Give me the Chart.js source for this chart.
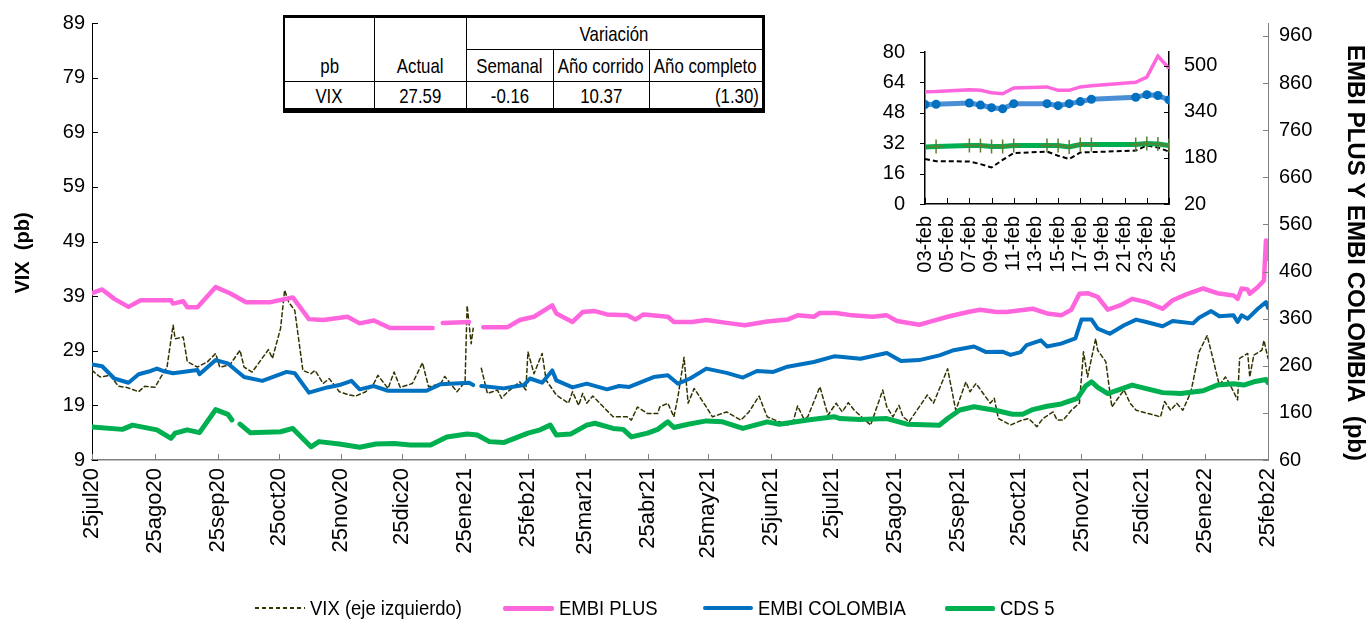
<!DOCTYPE html>
<html>
<head>
<meta charset="utf-8">
<script src="https://cdn.jsdelivr.net/npm/chart.js@4"></script>
<style>
html,body{margin:0;padding:0;background:#fff;}
#wrap{position:relative;width:1370px;height:621px;overflow:hidden;background:#fff;}
#main{position:absolute;left:0;top:0;}
#inset{position:absolute;left:860px;top:20px;}
#tbl{position:absolute;left:283px;top:15px;width:479px;table-layout:fixed;border-collapse:collapse;
  font-family:'Liberation Sans',Arial,sans-serif;font-size:21px;color:#000;background:#fff;
  border-top:3px solid #000;border-bottom:5px solid #000;border-left:2px solid #000;border-right:3px solid #000;}
#tbl td{border:1px solid #000;padding:0 3px;line-height:1;white-space:nowrap;overflow:visible;}
#tbl .c{display:flex;justify-content:center;}
#tbl .r{display:flex;justify-content:flex-end;}
#tbl .c span{display:inline-block;transform:scaleX(0.8);transform-origin:50% 50%;}
#tbl .r span{display:inline-block;transform:scaleX(0.8);transform-origin:100% 50%;}
#legend{position:absolute;left:0;top:595px;width:1370px;height:26px;
  font-family:'Liberation Sans',Arial,sans-serif;font-size:21px;color:#000;}
.li{position:absolute;top:0;height:26px;display:flex;align-items:center;white-space:nowrap;}
.sw{display:inline-block;margin-right:5px;}
.lt{display:inline-block;transform:scaleX(0.88);transform-origin:0 50%;}
</style>
</head>
<body>
<div id="wrap">
  <canvas id="main" width="1370" height="621"></canvas>
  <canvas id="inset" width="400" height="260"></canvas>
  <table id="tbl"></table>
  <div id="legend"></div>
</div>
<script>
// ---------- DATA ----------
// x positions are days counted from 25-jul-2020
const monthTickDays = [0,31,62,92,123,153,184,215,243,274,304,335,365,396,427,457,488,518,549,580];
const monthLabels = ['25jul20','25ago20','25sep20','25oct20','25nov20','25dic20','25ene21','25feb21','25mar21','25abr21',
  '25may21','25jun21','25jul21','25ago21','25sep21','25oct21','25nov21','25dic21','25ene22','25feb22'];
const leftTicks = [9,19,29,39,49,59,69,79,89];
const rightTicks = [60,160,260,360,460,560,660,760,860,960];

const vixDays = [0,4,9,13,17,23,26,31,34,37,
  40,41,45,47,52,57,61,63,68,73,
  75,79,87,89,93,95,97,100,104,108,
  110,114,117,122,127,130,135,139,141,146,
  149,152,158,163,166,172,174,180,184,185,
  187,188,190,192,195,200,202,205,211,214,
  215,218,222,224,229,235,237,240,242,244,
  247,257,264,266,269,274,279,280,284,287,
  289,292,294,297,303,306,313,320,324,329,
  333,339,343,346,348,351,353,359,363,367,
  370,373,376,384,390,392,395,398,400,403,
  412,415,422,426,431,433,436,443,445,447,
  453,458,462,466,469,474,476,479,483,487,
  489,491,495,496,500,503,506,509,512,515,
  518,527,529,532,535,538,542,546,550,553,
  556,559,561,565,566,570,571,573,577,578,
  580];
const vixValues = [25.4,24.2,24.5,22.5,22.3,21.5,22.5,22.3,24.2,26.0,
  33.7,31.2,31.5,27.0,26.0,27.0,28.5,26.0,26.4,29.1,
  26.0,25.1,29.2,27.6,33.1,40.1,37.9,36.4,25.4,24.8,
  25.4,23.0,23.9,21.5,20.9,20.7,21.5,23.0,24.5,22.1,
  25.1,22.3,23.0,26.8,22.4,23.0,24.3,21.5,23.3,37.3,
  30.3,33.1,null,25.8,21.2,21.8,20.3,21.5,23.3,21.8,
  28.8,24.8,28.5,23.6,20.9,19.4,21.5,19.0,21.2,19.4,
  20.7,16.9,16.9,16.3,18.7,17.5,17.5,18.7,19.4,16.9,
  20.6,27.8,19.4,22.1,18.7,16.9,17.8,16.3,17.8,20.7,
  16.9,16.0,15.4,16.3,18.9,16.6,16.9,22.4,17.2,19.4,
  17.8,19.5,18.1,15.4,21.8,18.7,16.9,19.0,16.9,16.0,
  20.9,19.4,25.7,18.1,23.3,21.5,23.0,19.4,20.3,16.6,
  15.4,16.2,16.6,15.1,16.6,17.8,16.3,16.3,18.1,19.4,
  28.8,24.2,31.2,29.1,27.0,18.7,20.3,21.8,19.4,18.1,
  17.8,16.9,19.7,18.1,19.4,18.1,21.5,28.8,31.8,27.3,
  22.7,24.2,23.0,20.0,27.6,28.5,24.2,28.2,29.1,30.9,
  27.6];

const plusDays = [0,5,11,18,24,32,39,40,45,47,
  52,61,68,76,88,99,107,114,126,132,
  139,147,168,171,173,186,190,193,205,211,
  218,227,229,237,242,248,254,264,268,272,
  284,287,296,303,313,322,333,343,348,356,
  359,367,375,385,392,397,408,413,422,432,
  438,446,451,464,471,478,483,487,491,496,
  501,507,513,520,528,533,540,548,555,563,
  565,567,570,571,575,578,579,580];
const plusValues = [414,422,402,385,399,399,399,392,397,384,
  384,427,414,395,395,405,359,357,364,350,
  356,340,340,null,351,353,null,342,342,357,
  364,388,371,353,374,376,369,367,358,369,
  364,353,353,357,351,346,354,358,367,364,
  372,372,367,364,367,355,347,353,364,374,
  379,374,374,381,371,367,379,413,414,406,
  379,388,402,395,381,399,412,424,414,409,
  402,424,422,413,427,441,526,487];

const colDays = [0,5,11,18,23,29,32,35,40,52,
  53,61,67,75,84,96,100,107,116,122,
  128,132,139,146,165,172,186,188,190,192,
  203,213,216,222,227,229,237,244,254,260,
  265,277,284,289,295,303,313,321,328,336,
  343,356,366,369,379,392,399,408,418,425,
  435,441,449,453,458,461,468,471,478,485,
  488,493,496,502,509,515,520,528,533,543,
  546,552,556,563,565,567,570,575,579,580];
const colValues = [263,259,233,224,242,249,254,249,244,251,
  242,272,265,236,228,247,244,203,214,219,
  228,210,217,207,207,221,224,219,null,217,
  212,219,233,224,250,229,214,222,210,217,
  215,236,240,222,233,254,245,235,249,247,
  258,268,280,279,275,287,270,272,282,293,
  301,289,290,283,289,304,314,301,307,318,
  358,358,339,328,346,358,353,344,355,350,
  362,376,365,367,353,367,360,381,395,383];

const cdsDays = [0,15,20,32,39,41,47,53,61,67,
  69,71,73,78,93,99,108,112,122,132,
  140,149,157,167,175,185,190,196,203,215,
  221,226,229,236,244,248,257,262,266,274,
  279,284,287,294,303,311,321,333,339,353,
  366,369,379,392,402,418,422,428,435,446,
  454,459,464,471,478,486,490,493,496,501,
  513,528,537,548,555,563,568,573,579,580];
const cdsValues = [130,125,134,124,106,117,124,118,167,157,
  145,null,136,118,120,127,88,99,94,87,
  94,95,92,92,109,115,113,99,97,117,
  124,134,113,115,134,138,127,125,109,117,
  125,141,129,136,143,141,127,141,136,145,
  152,148,146,148,136,134,148,166,173,165,
  157,157,167,174,179,191,217,226,214,201,
  219,203,201,207,219,222,219,226,231,224];

// inset: days counted from 03-feb-2022
const insetDays = [0,1,4,5,6,7,8,11,12,13,14,15,19,20,21,22];
const insetVix  = [23.7,22.5,22.4,21.0,19.2,23.2,26.8,27.6,25.4,23.7,27.1,27.3,28.1,30.8,29.7,27.6];
const insetPlus = [409,410,416,414,406,402,422,426,414,414,426,430,442,460,533,490];
const insetCol  = [365,366,370,363,354,350,368,368,361,368,375,383,390,399,396,381];
const insetCds  = [218,219,223,223,219,219,223,223,223,218,226,226,226,230,228,223];
const insetTickDays = [0,2,4,6,8,10,12,14,16,18,20,22];
const insetTickLabels = ['03-feb','05-feb','07-feb','09-feb','11-feb','13-feb','15-feb','17-feb','19-feb','21-feb','23-feb','25-feb'];
const insetLeftTicks = [0,16,32,48,64,80];
const insetRightTicks = [20,180,340,500];

const seriesLabels = ['VIX (eje izquierdo)','EMBI PLUS','EMBI COLOMBIA','CDS 5'];
const axisTitleLeft = 'VIX  (pb)';
const axisTitleRight = 'EMBI PLUS Y EMBI COLOMBIA  (pb)';
const tableHead1 = ['pb','Actual','Variación'];
const tableHead2 = ['Semanal','Año corrido','Año completo'];
const tableRow = ['VIX','27.59','-0.16','10.37','(1.30)'];

// ---------- HELPERS ----------
const pts = (xs, ys) => xs.map((x, i) => ({x: x, y: ys[i]}));
const setTicks = arr => (s => { s.ticks = arr.map(v => ({value: v})); });

const tickMarks = {
  id: 'tickMarks',
  afterDraw(chart, args, opts) {
    const ctx = chart.ctx;
    (opts.axes || []).forEach(a => {
      const s = chart.scales[a.id];
      ctx.save();
      ctx.strokeStyle = a.color; ctx.lineWidth = 1;
      ctx.beginPath();
      s.ticks.forEach((t, i) => {
        const p = Math.round(s.getPixelForTick(i)) + 0.5;
        if (s.isHorizontal()) { ctx.moveTo(p, s.top); ctx.lineTo(p, s.top + a.len); }
        else { const x = s.position === 'left' ? s.right : s.left; ctx.moveTo(x, p); ctx.lineTo(x + a.len, p); }
      });
      ctx.stroke();
      ctx.restore();
    });
    (opts.titles || []).forEach(t => {
      ctx.save();
      ctx.translate(t.x, t.y); ctx.rotate(t.rot);
      ctx.font = t.font; ctx.fillStyle = '#000';
      ctx.textAlign = 'center'; ctx.textBaseline = 'middle';
      ctx.fillText(t.text, 0, 0);
      ctx.restore();
    });
  }
};

Chart.defaults.font.family = "'Liberation Sans', Arial, sans-serif";
Chart.defaults.color = '#000';

// ---------- MAIN CHART ----------
new Chart(document.getElementById('main'), {
  type: 'line',
  data: {
    datasets: [
      {label: seriesLabels[3], data: pts(cdsDays, cdsValues), yAxisID: 'yR', borderColor: '#00B050', borderWidth: 5},
      {label: seriesLabels[2], data: pts(colDays, colValues), yAxisID: 'yR', borderColor: '#0070C0', borderWidth: 4},
      {label: seriesLabels[1], data: pts(plusDays, plusValues), yAxisID: 'yR', borderColor: '#FF66DD', borderWidth: 4.5},
      {label: seriesLabels[0], data: pts(vixDays, vixValues), yAxisID: 'yL', borderColor: '#333300', borderWidth: 1.5, borderDash: [4, 3]}
    ]
  },
  options: {
    responsive: false, animation: false, spanGaps: false,
    elements: {point: {radius: 0}, line: {tension: 0, borderJoinStyle: 'round', borderCapStyle: 'round'}},
    layout: {padding: {top: 22, left: 0, right: 0, bottom: 0}},
    plugins: {
      legend: {display: false}, tooltip: {enabled: false},
      tickMarks: {
        axes: [{id: 'x', len: -6, color: '#808080'}, {id: 'yL', len: 6, color: '#000'}, {id: 'yR', len: -5, color: '#808080'}],
        titles: [
          {text: axisTitleLeft, x: 23, y: 253, rot: -Math.PI / 2, font: "bold 20px 'Liberation Sans', Arial, sans-serif"},
          {text: axisTitleRight, x: 1355, y: 253, rot: Math.PI / 2, font: "bold 24px 'Liberation Sans', Arial, sans-serif"}
        ]
      }
    },
    scales: {
      x: {
        type: 'linear', min: 0, max: 580,
        afterBuildTicks: setTicks(monthTickDays),
        afterFit: s => { s.height = 161; },
        ticks: {autoSkip: false, minRotation: 90, maxRotation: 90, padding: 8, font: {size: 22},
          callback: (v, i) => monthLabels[i]},
        grid: {display: false, drawTicks: false},
        border: {display: true, color: '#808080', width: 1.5}
      },
      yL: {
        position: 'left', min: 9, max: 89,
        afterBuildTicks: setTicks(leftTicks),
        afterFit: s => { s.width = 92; },
        ticks: {padding: 7, font: {size: 20}},
        grid: {display: false, drawTicks: false},
        border: {display: true, color: '#000', width: 1}
      },
      yR: {
        position: 'right', min: 60, max: 987.5,
        afterBuildTicks: setTicks(rightTicks),
        afterFit: s => { s.width = 102; },
        ticks: {padding: 11, font: {size: 20}},
        grid: {display: false, drawTicks: false},
        border: {display: true, color: '#808080', width: 1}
      }
    }
  },
  plugins: [tickMarks]
});

// ---------- INSET CHART ----------
new Chart(document.getElementById('inset'), {
  type: 'line',
  data: {
    datasets: [
      {label: seriesLabels[3], data: pts(insetDays, insetCds), yAxisID: 'yR', borderColor: '#00B050', borderWidth: 5,
        pointStyle: 'cross', pointRadius: 7, pointBorderColor: '#5E7F32', pointBorderWidth: 1.5},
      {label: seriesLabels[2], data: pts(insetDays, insetCol), yAxisID: 'yR', borderColor: '#4A8FD6', borderWidth: 5,
        pointStyle: 'circle', pointRadius: 4.5, pointBackgroundColor: '#0070C0', pointBorderColor: '#0070C0', pointBorderWidth: 0},
      {label: seriesLabels[1], data: pts(insetDays, insetPlus), yAxisID: 'yR', borderColor: '#FF66DD', borderWidth: 3.5, pointRadius: 0},
      {label: seriesLabels[0], data: pts(insetDays, insetVix), yAxisID: 'yL', borderColor: '#000', borderWidth: 2, borderDash: [5, 3], pointRadius: 0}
    ]
  },
  options: {
    responsive: false, animation: false,
    elements: {line: {tension: 0}},
    layout: {padding: {top: 15, left: 0, right: 0, bottom: 0}},
    plugins: {
      legend: {display: false}, tooltip: {enabled: false},
      tickMarks: {axes: [{id: 'x', len: -6, color: '#000'}, {id: 'yL', len: -5, color: '#000'}, {id: 'yR', len: -5, color: '#000'}]}
    },
    scales: {
      x: {
        type: 'linear', min: 0, max: 22,
        afterBuildTicks: setTicks(insetTickDays),
        afterFit: s => { s.height = 76; },
        ticks: {autoSkip: false, minRotation: 90, maxRotation: 90, padding: 12, font: {size: 20},
          callback: (v, i) => insetTickLabels[i]},
        grid: {display: false, drawTicks: false},
        border: {display: true, color: '#000', width: 1.5}
      },
      yL: {
        position: 'left', min: 0, max: 80,
        afterBuildTicks: setTicks(insetLeftTicks),
        afterFit: s => { s.width = 65; },
        ticks: {padding: 20, font: {size: 20}},
        grid: {display: false, drawTicks: false},
        border: {display: true, color: '#000', width: 1.5}
      },
      yR: {
        position: 'right', min: 20, max: 547,
        afterBuildTicks: setTicks(insetRightTicks),
        afterFit: s => { s.width = 91; },
        ticks: {padding: 15, font: {size: 20}},
        grid: {display: false, drawTicks: false},
        border: {display: true, color: '#000', width: 1.5}
      }
    }
  },
  plugins: [tickMarks]
});

// ---------- TABLE ----------
(function () {
  const colW = [90, 92, 87, 96, 114];
  const cell = (t, cls) => '<div class="' + cls + '"><span>' + t + '</span></div>';
  let h = '<colgroup>' + colW.map(w => '<col style="width:' + w + 'px">').join('') + '</colgroup>';
  h += '<tr style="height:33px"><td rowspan="2" style="vertical-align:bottom;padding-bottom:5px">' + cell(tableHead1[0], 'c') + '</td>' +
       '<td rowspan="2" style="vertical-align:bottom;padding-bottom:5px">' + cell(tableHead1[1], 'c') + '</td>' +
       '<td colspan="3">' + cell(tableHead1[2], 'c') + '</td></tr>';
  h += '<tr style="height:32px">' + tableHead2.map(t => '<td>' + cell(t, 'c') + '</td>').join('') + '</tr>';
  h += '<tr style="height:29px">' + tableRow.map((t, i) => '<td>' + cell(t, i === 4 ? 'r' : 'c') + '</td>').join('') + '</tr>';
  document.getElementById('tbl').innerHTML = h;
})();

// ---------- LEGEND ----------
(function () {
  const sw = [
    {left: 255, css: 'width:50px;height:2px;background:repeating-linear-gradient(90deg,#333300 0 4px,transparent 4px 7px);'},
    {left: 503, css: 'width:51px;height:5px;border-radius:2px;background:#FF66DD;'},
    {left: 703, css: 'width:50px;height:4px;border-radius:2px;background:#0070C0;'},
    {left: 945, css: 'width:50px;height:5px;border-radius:2px;background:#00B050;'}
  ];
  document.getElementById('legend').innerHTML = seriesLabels.map((t, i) =>
    '<div class="li" style="left:' + sw[i].left + 'px"><span class="sw" style="' + sw[i].css + '"></span><span class="lt">' + t + '</span></div>'
  ).join('');
})();
</script>
</body>
</html>
